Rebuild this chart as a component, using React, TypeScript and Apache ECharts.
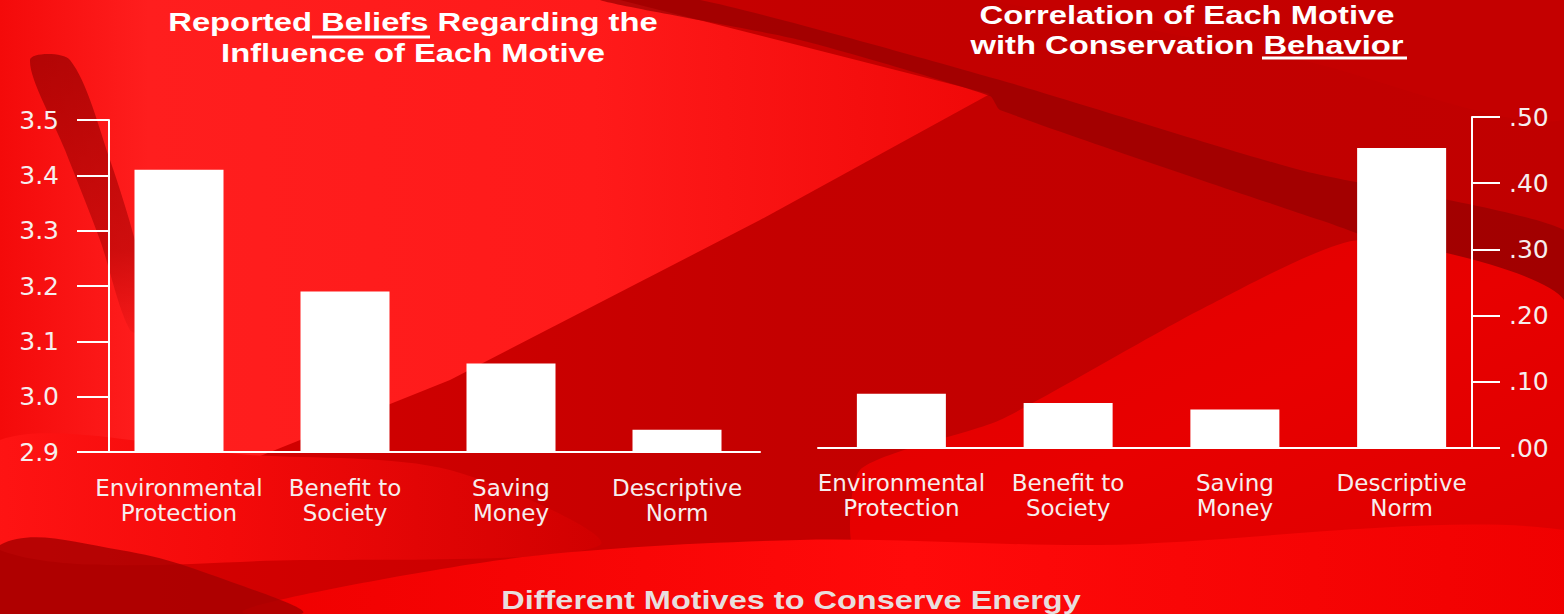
import React, { useEffect, useRef } from "react";
import * as echarts from "echarts";

const categories = ["Environmental\nProtection", "Benefit to\nSociety", "Saving\nMoney", "Descriptive\nNorm"];
const beliefValues = [3.41, 3.19, 3.06, 2.94];
const correlationValues = [0.082, 0.068, 0.058, 0.453];
const leftTitle = ["Reported Beliefs Regarding the", "Influence of Each Motive"];
const rightTitle = ["Correlation of Each Motive", "with Conservation Behavior"];
const bottomTitle = "Different Motives to Conserve Energy";

const TXT = "#f6eeee";

function poly(points: number[][], fill: any, z: number, smooth = 0.3) {
  return { type: "polygon", shape: { points, smooth }, style: { fill }, z, silent: true };
}

export default function App() {
  const ref = useRef<HTMLDivElement>(null);
  useEffect(() => {
    if (!ref.current) return;
    const chart = echarts.init(ref.current, null, { renderer: "svg" });
    const titleFont = "bold 26px 'Liberation Sans', Arial, sans-serif";
    const axisLabel = {
      color: TXT,
      fontFamily: "'DejaVu Sans', sans-serif",
      fontSize: 23,
      lineHeight: 25,
    };
    const LG = (x1: number, y1: number, x2: number, y2: number, stops: [number, string][]) =>
      new echarts.graphic.LinearGradient(x1, y1, x2, y2, stops.map(([offset, color]) => ({ offset, color })));
    const bg = [
      {
        type: "rect",
        shape: { x: 0, y: 0, width: 1564, height: 614 },
        style: { fill: LG(0, 0, 1, 0, [[0, "#d80000"], [0.5, "#c40000"], [1, "#c00000"]]) },
        z: -20,
        silent: true,
      },
      // bright wedge on the left, pointing right
      poly(
        [[0, 0], [620, 0], [990, 94], [760, 220], [450, 380], [250, 460], [0, 470]],
        LG(0, 0, 1, 0, [[0, "#f40a0a"], [0.15, "#ff1e1e"], [0.6, "#ff1a1a"], [1, "#f00808"]]),
        -19,
        0
      ),
      // area under the left chart
      poly(
        [[0, 440], [250, 455], [450, 470], [600, 545], [300, 560], [0, 550]],
        LG(0, 0, 1, 0, [[0, "#ff1414"], [0.4, "#f40a0a"], [1, "#d00000"]]),
        -19,
        0.3
      ),
      // dark band above the wedge, running to the right
      poly(
        [[600, 0], [700, 0], [1000, 80], [1300, 170], [1564, 230], [1564, 300], [1320, 220], [1000, 110], [990, 96], [800, 40]],
        "rgba(150,0,0,0.7)",
        -18,
        0.2
      ),
      // top right medium region
      poly(
        [[1000, 0], [1564, 0], [1564, 120], [1300, 60], [1100, 20]],
        "rgba(200,0,0,0.5)",
        -18,
        0.3
      ),
      // lower right brighter region
      poly(
        [[860, 470], [1000, 420], [1200, 310], [1360, 240], [1564, 300], [1564, 560], [860, 560]],
        LG(0, 0, 1, 1, [[0, "#e00000"], [0.5, "#e80000"], [1, "#dc0000"]]),
        -18,
        0.2
      ),
      // left dark diagonal streak
      poly(
        [[30, 60], [70, 60], [110, 160], [140, 260], [150, 330], [130, 330], [100, 240], [65, 150]],
        LG(0, 0, 0, 1, [[0, "rgba(150,0,0,0.7)"], [0.7, "rgba(160,0,0,0.5)"], [1, "rgba(170,0,0,0.1)"]]),
        -17,
        0.3
      ),
      // bottom bright band
      poly(
        [[250, 614], [500, 560], [800, 540], [1100, 545], [1564, 530], [1564, 614]],
        LG(0, 0, 1, 0, [[0, "#f00000"], [0.5, "#ff0a0a"], [1, "#f00000"]]),
        -17,
        0.3
      ),
      // bottom-left dark swoosh
      poly(
        [[0, 545], [120, 550], [240, 585], [300, 614], [0, 614]],
        "rgba(165,0,0,0.8)",
        -16,
        0.4
      ),
    ];
    const texts = [
      { x: 413, y: 22, t: leftTitle[0], font: titleFont, sx: 1.26, fill: "#ffffff" },
      { x: 413, y: 53, t: leftTitle[1], font: titleFont, sx: 1.26, fill: "#ffffff" },
      { x: 1187, y: 15, t: rightTitle[0], font: titleFont, sx: 1.26, fill: "#ffffff" },
      { x: 1187, y: 45, t: rightTitle[1], font: titleFont, sx: 1.26, fill: "#ffffff" },
      { x: 791, y: 600, t: bottomTitle, font: "bold 25px 'Liberation Sans', Arial, sans-serif", sx: 1.3, fill: "#e8dede" },
    ].map((d) => ({
      type: "text",
      x: d.x,
      y: d.y,
      scaleX: d.sx,
      z: 10,
      style: { text: d.t, font: d.font, fill: d.fill, textAlign: "center", textVerticalAlign: "middle" },
    }));
    const underlines = [
      { type: "line", shape: { x1: 312, y1: 37, x2: 430, y2: 37 }, style: { stroke: "#ffffff", lineWidth: 3 }, z: 10 },
      { type: "line", shape: { x1: 1262, y1: 58, x2: 1407, y2: 58 }, style: { stroke: "#ffffff", lineWidth: 3 }, z: 10 },
    ];
    const axisLineStyle = { lineStyle: { color: "#ffffff", width: 2 } };
    chart.setOption({
      animation: false,
      backgroundColor: "#d00000",
      graphic: [...bg, ...texts, ...underlines],
      grid: [
        { left: 96, top: 120, width: 664, height: 332 },
        { left: 818, top: 117, width: 667, height: 331 },
      ],
      xAxis: [
        {
          type: "category",
          gridIndex: 0,
          data: categories,
          axisLine: axisLineStyle,
          axisTick: { show: false },
          axisLabel: { ...axisLabel, margin: 23, interval: 0 },
        },
        {
          type: "category",
          gridIndex: 1,
          data: categories,
          axisLine: axisLineStyle,
          axisTick: { show: false },
          axisLabel: { ...axisLabel, margin: 22, interval: 0 },
        },
      ],
      yAxis: [
        {
          type: "value",
          gridIndex: 0,
          min: 2.9,
          max: 3.5,
          interval: 0.1,
          offset: -13,
          axisLine: { show: true, ...axisLineStyle },
          axisTick: { show: true, length: 32, lineStyle: { color: "#ffffff", width: 2 } },
          splitLine: { show: false },
          axisLabel: {
            color: TXT,
            fontFamily: "'DejaVu Sans', sans-serif",
            fontSize: 25,
            margin: 50,
            formatter: (v: number) => v.toFixed(1),
          },
        },
        {
          type: "value",
          gridIndex: 1,
          position: "right",
          min: 0,
          max: 0.5,
          interval: 0.1,
          offset: -13,
          axisLine: { show: true, ...axisLineStyle },
          axisTick: { show: true, length: 28, lineStyle: { color: "#ffffff", width: 2 } },
          splitLine: { show: false },
          axisLabel: {
            color: TXT,
            fontFamily: "'DejaVu Sans', sans-serif",
            fontSize: 25,
            margin: 37,
            formatter: (v: number) => "." + Math.round(v * 100).toString().padStart(2, "0"),
          },
        },
      ],
      series: [
        {
          type: "bar",
          xAxisIndex: 0,
          yAxisIndex: 0,
          data: beliefValues,
          barWidth: 89,
          itemStyle: { color: "#ffffff" },
        },
        {
          type: "bar",
          xAxisIndex: 1,
          yAxisIndex: 1,
          data: correlationValues,
          barWidth: 89,
          itemStyle: { color: "#ffffff" },
        },
      ],
    });
    return () => chart.dispose();
  }, []);
  return <div ref={ref} style={{ width: 1564, height: 614, position: "absolute", left: 0, top: 0 }} />;
}
